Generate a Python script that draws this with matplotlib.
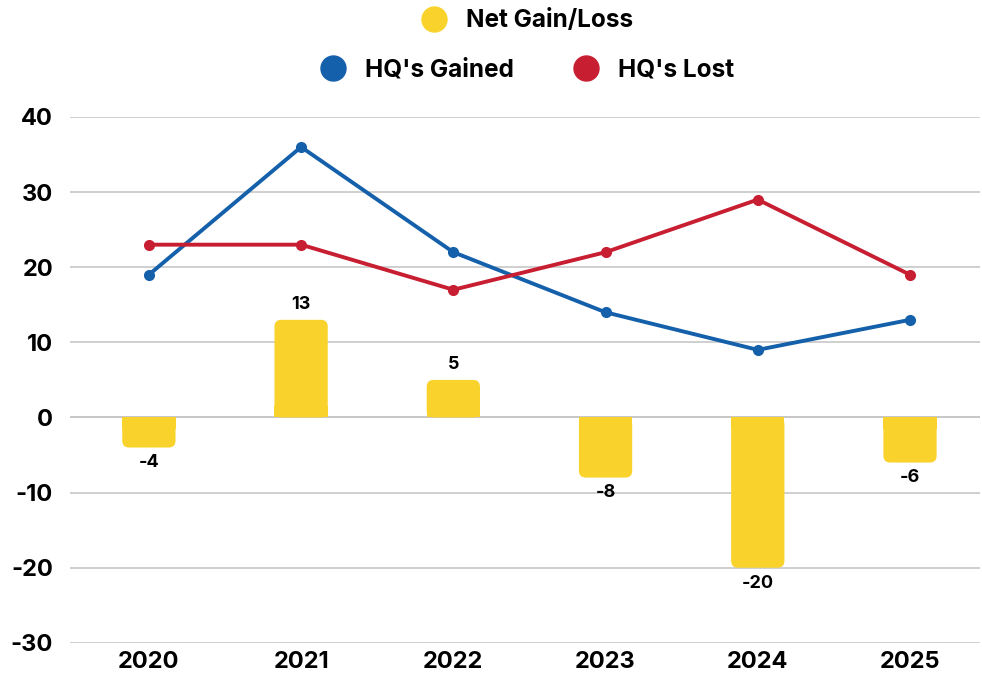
import matplotlib
matplotlib.use("Agg")
import matplotlib.pyplot as plt
from matplotlib.lines import Line2D
from matplotlib.patches import FancyBboxPatch, Rectangle

years = ["2020", "2021", "2022", "2023", "2024", "2025"]
gained = [19, 36, 22, 14, 9, 13]
lost = [23, 23, 17, 22, 29, 19]
net = [-4, 13, 5, -8, -20, -6]
yticks = [-30, -20, -10, 0, 10, 20, 30, 40]

BLUE = "#1460AA"
RED = "#C81E32"
YELLOW = "#F9D32C"
W = "bold"

plt.rcParams['font.family'] = ['Inter', 'DejaVu Sans']

fig = plt.figure(figsize=(9.82, 6.76), dpi=100)
ax = fig.add_axes([0.071, 0.049, 0.927, 0.778])

x = list(range(len(years)))
ax.set_xlim(-0.52, 5.46)
ax.set_ylim(-30, 40)

# bars, then swap each for a version with rounded far-end corners
bars = ax.bar(x, net, width=0.35, color=YELLOW, zorder=2)
aspect = (70 / 526) / (5.98 / 910)
for b in bars:
    bx, by, bw, bh = b.get_x(), b.get_y(), b.get_width(), b.get_height()
    b.set_visible(False)
    y0 = min(by, by + bh)
    h = abs(bh)
    ax.add_patch(FancyBboxPatch((bx, y0), bw, h,
                                boxstyle="round,pad=0,rounding_size=0.045",
                                mutation_aspect=aspect, fc=YELLOW, ec="none", lw=0, zorder=2))
    # square off the end that sits on zero
    r = min(1.5, h)
    sy = 0 if bh > 0 else -r
    ax.add_patch(Rectangle((bx, sy), bw, r, fc=YELLOW, ec="none", lw=0, zorder=2))

for xi, v in zip(x, net):
    if v >= 0:
        ax.text(xi, v + 0.9, str(v), ha="center", va="bottom", fontsize=13, fontweight=W)
    else:
        ax.text(xi, v - 0.9, str(v), ha="center", va="top", fontsize=13, fontweight=W)

ax.plot(x, gained, color=BLUE, lw=2.8, marker="o", ms=7, zorder=3)
ax.plot(x, lost, color=RED, lw=2.8, marker="o", ms=7, zorder=3)

ax.set_xticks(x)
ax.set_xticklabels(years, fontsize=17, fontweight=W)
ax.set_yticks(yticks)
ax.set_yticklabels([str(t) for t in yticks], fontsize=17, fontweight=W)
ax.tick_params(axis="x", length=0, pad=6)
ax.tick_params(axis="y", length=0, pad=12)
for s in ax.spines.values():
    s.set_visible(False)
ax.grid(axis="y", color="#cccccc", lw=1.3, zorder=0)
ax.axhline(0, color="#999999", lw=1.3, zorder=1)

h1 = [Line2D([], [], ls="none", marker="o", ms=18, color=YELLOW)]
fig.legend(h1, ["Net Gain/Loss"], loc="center", bbox_to_anchor=(0.531, 0.969),
           frameon=False, prop={"size": 17.5, "weight": W}, handletextpad=0.3)
h2 = [Line2D([], [], ls="none", marker="o", ms=18, color=BLUE),
      Line2D([], [], ls="none", marker="o", ms=18, color=RED)]
fig.legend(h2, ["HQ's Gained", "HQ's Lost"], loc="center", bbox_to_anchor=(0.531, 0.896),
           ncol=2, frameon=False, prop={"size": 17.5, "weight": W},
           handletextpad=0.3, columnspacing=2.0)

fig.savefig("out.png", dpi=100)
